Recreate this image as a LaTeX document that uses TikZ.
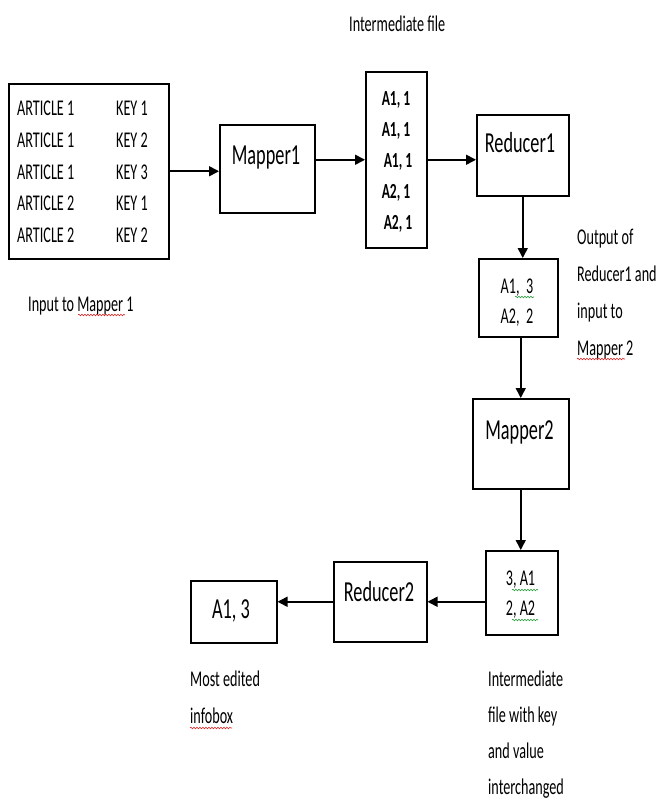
\documentclass[tikz,border=0pt]{standalone}
\usepackage{fontspec}
\setmainfont{Carlito}[FakeStretch=0.63]
\usetikzlibrary{arrows.meta,decorations.pathmorphing}
\tikzset{
  box/.style={draw=black, line width=1.5pt, inner sep=0pt, anchor=north west},
  arr/.style={line width=1.6pt, -{Triangle[length=10pt,width=10pt]}},
  lbl/.style={inner sep=0pt, anchor=base west, align=left, font=\fontsize{22.5}{37}\selectfont},
  lbltight/.style={lbl, font=\fontsize{22.5}{36}\selectfont},
  rows/.style={inner sep=0pt, anchor=base west, align=left, font=\fontsize{22.5}{31.65}\selectfont},
  big/.style={inner sep=0pt, anchor=base, font=\fontsize{29}{29}\selectfont},
  med/.style={inner sep=0pt, anchor=base, align=center, font=\fontsize{22.5}{30}\selectfont},
  bld/.style={inner sep=0pt, anchor=base, align=center, font=\fontsize{21.5}{31}\selectfont\bfseries},
  squig/.style={line width=0.6pt, decorate, decoration={snake, amplitude=0.8pt, segment length=3pt}},
  redsq/.style={squig, draw={rgb,255:red,220;green,40;blue,40}},
  grnsq/.style={squig, draw={rgb,255:red,40;green,160;blue,60}},
}
\begin{document}
\begin{tikzpicture}[x=1pt,y=-1pt]
\useasboundingbox (0,0) rectangle (659,800);
% boxes
\node[box, minimum width=160pt, minimum height=175pt] (input) at (8,83) {};
\node[box, minimum width=95pt, minimum height=88pt] (mapper1) at (219,124) {};
\node[box, minimum width=61pt, minimum height=176pt] (inter) at (365,71) {};
\node[box, minimum width=92pt, minimum height=81pt] (reducer1) at (476,114) {};
\node[box, minimum width=79pt, minimum height=78pt] (mid) at (478,258) {};
\node[box, minimum width=96pt, minimum height=90pt] (mapper2) at (472,398) {};
\node[box, minimum width=72pt, minimum height=84pt] (swap) at (485,550) {};
\node[box, minimum width=93pt, minimum height=80pt] (reducer2) at (333,561) {};
\node[box, minimum width=86pt, minimum height=62pt] (final) at (190,580) {};
% box texts (multi-line nodes: base anchor = last line's baseline)
\node[rows] (articles) at (17,242.3) {ARTICLE 1\\ARTICLE 1\\ARTICLE 1\\ARTICLE 2\\ARTICLE 2};
\node[rows] (keys) at (116,242.3) {KEY 1\\KEY 2\\KEY 3\\KEY 1\\KEY 2};
\node[big] (m1text) at (266,164) {Mapper1};
\node[bld] (intertext) at (396,229) {A1, 1\\A1, 1\\\kern4pt A1, 1\\A2, 1\\\kern4pt A2, 1};
\node[big] (r1text) at (520,152.7) {Reducer1};
\node[med] (midtext) at (517,323.3) {A1,\ \ 3\\A2,\ \ 2};
\node[big] (m2text) at (519.5,439) {Mapper2};
\node[med] (swaptext) at (520.5,615) {3, A1\\2, A2};
\node[big] (r2text) at (379,601.7) {Reducer2};
\node[big] (finaltext) at (231,618.3) {A1, 3};
% labels
\node[lbl] (lintermediate) at (349,32) {Intermediate file};
\node[lbl] (linput) at (28,311) {Input to Mapper 1};
\node[lbl] (loutput) at (577,355) {Output of\\Reducer1 and\\input to\\Mapper 2};
\node[lbl] (lmost) at (190,723) {Most edited\\infobox};
\node[lbltight] (lswap) at (488,794) {Intermediate\\file with key\\and value\\interchanged};
% connectors
\draw[arr] (input.east) -- (input.east -| mapper1.west);
\draw[arr] (inter.west -| mapper1.east) -- (inter.west);
\draw[arr] (inter.east) -- (inter.east -| reducer1.west);
\draw[arr] (reducer1.south) -- (reducer1.south |- mid.north);
\draw[arr] (mapper2.north |- mid.south) -- (mapper2.north);
\draw[arr] (mapper2.south) -- (mapper2.south |- swap.north);
\draw[arr] (swap.west |- reducer2.east) -- (reducer2.east);
\draw[arr] (reducer2.west) -- (reducer2.west -| final.east);
% spell-check squiggles
\draw[redsq] (78,315) -- (125,315);
\draw[redsq] (190,728) -- (232,728);
\draw[redsq] (577,359) -- (625,359);
\draw[grnsq] (515,297) -- (534,297);
\draw[grnsq] (512,590) -- (538,590);
\draw[grnsq] (512,620) -- (538,620);
\end{tikzpicture}
\end{document}
